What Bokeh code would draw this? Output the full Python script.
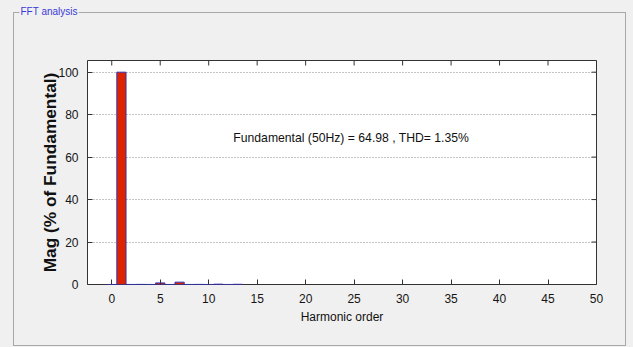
from bokeh.plotting import figure
from bokeh.models import FixedTicker, ColumnDataSource, Range1d, InlineStyleSheet, Title, Label
from bokeh.embed import file_html
from bokeh.resources import INLINE
import math

# data
harmonic_order = [0, 1, 2, 3, 4, 5, 6, 7, 8, 9, 10, 11, 12, 13]
magnitude = [0.02, 100.0, 0.02, 0.05, 0.02, 0.75, 0.02, 1.1, 0.02, 0.05, 0.02, 0.15, 0.02, 0.1]
x_ticks = list(range(0, 55, 5))
y_ticks = [0, 20, 40, 60, 80, 100]
grid_levels = [20, 40, 60, 80, 100]
annotation = "Fundamental (50Hz) = 64.98 , THD= 1.35%"
panel_title = "FFT analysis"
x_label = "Harmonic order"
y_label = "Mag (% of Fundamental)"

FONT = "Liberation Sans"
BG = "#f0f0f0"

css = InlineStyleSheet(css="""
:host { background-color: #f0f0f0; position: relative; }
:host::before { content: ''; position: absolute; left: 13px; top: 12px; width: 613px; height: 334px;
  border: 1px solid #a8a8a8; box-sizing: border-box; }
""")

p = figure(width=633, height=347, output_backend="svg", toolbar_location=None,
           x_range=Range1d(-2.5, 50), y_range=Range1d(0, 105.5),
           min_border_left=87, min_border_right=37, min_border_top=60, min_border_bottom=63,
           background_fill_color="white", border_fill_color=None, stylesheets=[css])
p.outline_line_color = "#333333"
p.outline_line_width = 1

# panel caption sitting on the fieldset border
title = Title(text=panel_title, align="left", offset=-68, standoff=41, vertical_align="top",
              text_font=FONT, text_font_size="10px", text_font_style="normal",
              text_color="#3a3ad8", background_fill_color=BG, padding=1)
try:
    title.padding = dict(top=1, right=1, bottom=42, left=1)
    title.standoff = 0
except Exception:
    title.padding = 1
    title.standoff = 41
p.title = title

src = ColumnDataSource(dict(x=harmonic_order, top=magnitude))
p.vbar(x="x", top="top", width=0.95, bottom=0, source=src,
       fill_color="#dd2200", line_color="#3333bb", line_width=1)

for ax in (p.xaxis[0], p.yaxis[0]):
    ax.major_tick_in = 5
    ax.major_tick_out = 0
    ax.minor_tick_in = 0
    ax.minor_tick_out = 0
    ax.axis_line_color = None
    ax.major_tick_line_color = "#333333"
    ax.major_label_text_font = FONT
    ax.major_label_text_font_size = "12px"
    ax.major_label_text_color = "#151515"
    ax.axis_label_text_font = FONT
    ax.axis_label_text_color = "#111111"

p.xaxis[0].ticker = FixedTicker(ticks=x_ticks)
p.xaxis[0].major_label_standoff = 9
p.xaxis[0].axis_label = x_label
p.xaxis[0].axis_label_text_font_size = "12px"
p.xaxis[0].axis_label_text_font_style = "normal"
p.xaxis[0].axis_label_standoff = 4
p.yaxis[0].ticker = FixedTicker(ticks=y_ticks)
p.yaxis[0].major_label_standoff = 9
p.yaxis[0].axis_label = y_label
p.yaxis[0].axis_label_text_font_size = "17.3px"
p.yaxis[0].axis_label_text_font_style = "bold"
p.yaxis[0].axis_label_standoff = -5

# inward ticks on top and right edges (MATLAB box)
p.ray(x=x_ticks, y=[p.y_range.end] * len(x_ticks), length=5, length_units="screen",
      angle=-math.pi / 2, line_color="#333333", line_width=1)
p.ray(x=[p.x_range.end] * len(y_ticks), y=y_ticks, length=5, length_units="screen",
      angle=math.pi, line_color="#333333", line_width=1)

p.xgrid.grid_line_color = None
p.ygrid.ticker = FixedTicker(ticks=grid_levels)
p.ygrid.grid_line_color = "#888888"
p.ygrid.grid_line_dash = "1 2"
p.ygrid.grid_line_width = 1

p.add_layout(Label(x=24.7, y=69, text=annotation, text_align="center", text_baseline="middle",
                   text_font=FONT, text_font_size="12.2px", text_color="#111111"))

open("out.html", "w").write(file_html(p, INLINE))
